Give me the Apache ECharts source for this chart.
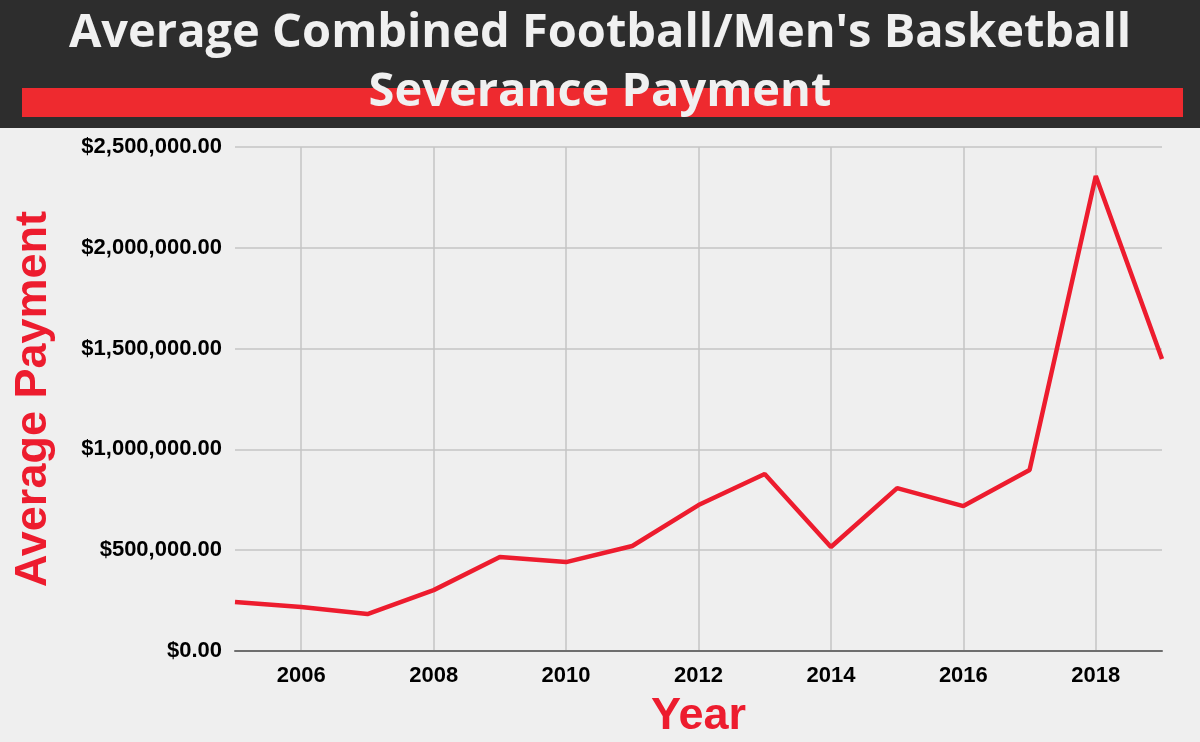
<!DOCTYPE html>
<html>
<head>
<meta charset="utf-8">
<script src="https://cdn.jsdelivr.net/npm/echarts@6/dist/echarts.min.js"></script>
<style>
  html, body { margin: 0; padding: 0; background: #efefef; }
  #chart { width: 1200px; height: 742px; }
</style>
</head>
<body>
<div id="chart"></div>
<script>
// values
var years = ['2005', '2006', '2007', '2008', '2009', '2010', '2011', '2012',
             '2013', '2014', '2015', '2016', '2017', '2018', '2019'];
var avgPayment = [243000, 218000, 183000, 302000, 466000, 441000, 521000, 724000,
                  878000, 516000, 808000, 719000, 898000, 2356000, 1448000];
var yTicks = [0, 500000, 1000000, 1500000, 2000000, 2500000];

var red = '#ed1c2e';

function money(v) {
    return '$' + v.toLocaleString('en-US', { minimumFractionDigits: 2, maximumFractionDigits: 2 });
}
function evenYear(i) {
    return i % 2 === 1;
}

var myChart = echarts.init(document.getElementById('chart'));
var option = {
    backgroundColor: '#efefef',
    animation: false,
    graphic: [
        { type: 'rect', left: 0, top: 0, z: -1, shape: { width: 1200, height: 128 }, style: { fill: '#2d2d2d' } },
        { type: 'rect', left: 22, top: 88, z: -1, shape: { width: 1161, height: 29 }, style: { fill: '#ee2a2f' } }
    ],
    title: {
        text: "Average Combined Football/Men's Basketball\nSeverance Payment",
        left: 'center',
        top: -1,
        textStyle: {
            color: '#f0f0f0',
            fontFamily: 'Open Sans',
            fontWeight: 'bold',
            fontSize: 47,
            lineHeight: 59
        }
    },
    grid: { left: 235, right: 38, top: 147, bottom: 91, outerBoundsMode: 'none' },
    xAxis: {
        type: 'category',
        data: years,
        boundaryGap: false,
        name: 'Year',
        nameLocation: 'middle',
        nameGap: 43,
        nameTextStyle: { color: red, fontFamily: 'Liberation Sans', fontWeight: 'bold', fontSize: 45 },
        axisLine: { lineStyle: { color: '#6e6e6e', width: 2 } },
        axisTick: { show: false },
        axisLabel: {
            interval: evenYear,
            margin: 14,
            color: '#000',
            fontFamily: 'Liberation Sans',
            fontWeight: 'bold',
            fontSize: 22
        },
        splitLine: { show: true, interval: evenYear, lineStyle: { color: '#c4c4c4', width: 1.5 } }
    },
    yAxis: {
        type: 'value',
        min: yTicks[0],
        max: yTicks[yTicks.length - 1],
        interval: yTicks[1] - yTicks[0],
        name: 'Average Payment',
        nameLocation: 'middle',
        nameGap: 179,
        nameTextStyle: { color: red, fontFamily: 'Liberation Sans', fontWeight: 'bold', fontSize: 45 },
        axisLine: { show: false },
        axisTick: { show: false },
        axisLabel: {
            margin: 13,
            formatter: money,
            color: '#000',
            fontFamily: 'Liberation Sans',
            fontWeight: 'bold',
            fontSize: 22
        },
        splitLine: { lineStyle: { color: '#c4c4c4', width: 1.5 } }
    },
    series: [{
        type: 'line',
        data: avgPayment,
        symbol: 'none',
        lineStyle: { color: red, width: 4.5 }
    }]
};
myChart.setOption(option);
</script>
</body>
</html>
